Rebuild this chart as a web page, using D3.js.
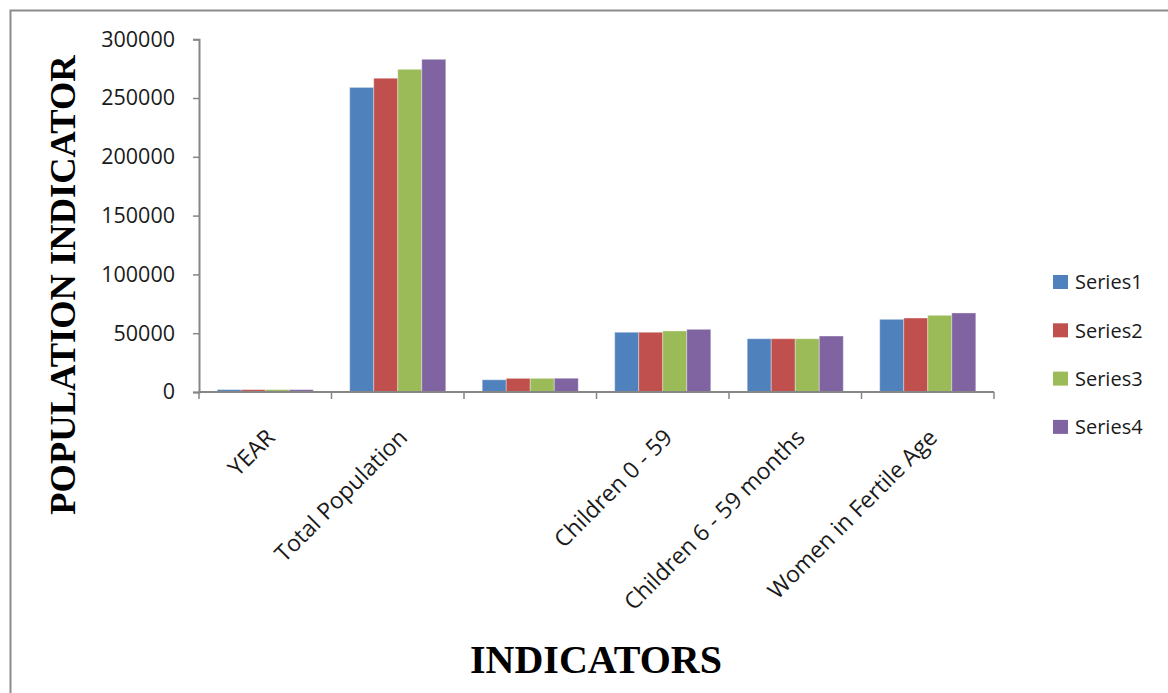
<!DOCTYPE html>
<html>
<head>
<meta charset="utf-8">
<script src="https://cdn.jsdelivr.net/npm/d3@7/dist/d3.min.js"></script>
<style>
  html, body { margin: 0; padding: 0; background: #fff; }
  svg { display: block; }
</style>
</head>
<body>
<svg id="chart" width="1168" height="693"></svg>
<script>
// Indicator categories along the x axis (the third one has no label)
const categories = ["YEAR", "Total Population", "", "Children 0 - 59", "Children 6 - 59 months", "Women in Fertile Age"];
const seriesNames = ["Series1", "Series2", "Series3", "Series4"];
const seriesColors = ["#4F81BD", "#C0504D", "#9BBB59", "#8064A2"];

// One array per series, aligned with categories
const series1 = [2009, 259000, 10400, 50800, 45300, 61800];
const series2 = [2010, 266800, 11600, 50800, 45300, 62900];
const series3 = [2011, 274400, 11600, 51900, 45300, 65200];
const series4 = [2012, 282900, 11700, 53300, 47600, 67200];
const seriesValues = [series1, series2, series3, series4];

const yTicks = [0, 50000, 100000, 150000, 200000, 250000, 300000];

const svg = d3.select("#chart");
const W = 1168, H = 693;

// outer chart frame
svg.append("rect")
  .attr("x", 10.5).attr("y", 10.5)
  .attr("width", W + 20).attr("height", H + 20)
  .attr("fill", "#fff").attr("stroke", "#8c8c8c").attr("stroke-width", 2);

const plot = { left: 199, right: 994, top: 39.2, bottom: 392 };

const x0 = d3.scaleBand()
  .domain(d3.range(categories.length))
  .range([plot.left, plot.right])
  .paddingInner(0.275)
  .paddingOuter(0.1375);

const x1 = d3.scaleBand()
  .domain(d3.range(seriesNames.length))
  .range([0, x0.bandwidth()]);

const y = d3.scaleLinear().domain([0, 300000]).range([plot.bottom, plot.top]);

const axisColor = "#868686";

// bars
const groups = svg.append("g").selectAll("g")
  .data(categories.map((c, i) => ({ i, vals: seriesValues.map(s => s[i]) })))
  .join("g")
  .attr("transform", d => `translate(${x0(d.i)},0)`);

groups.selectAll("rect")
  .data(d => d.vals.map((v, k) => ({ k, v })))
  .join("rect")
  .attr("x", d => x1(d.k))
  .attr("y", d => y(d.v))
  .attr("width", x1.bandwidth())
  .attr("height", d => y(0) - y(d.v))
  .attr("fill", d => seriesColors[d.k])
  .attr("stroke", "#ffffff")
  .attr("stroke-opacity", 0.35)
  .attr("stroke-width", 1);

// y axis
const yAxis = svg.append("g")
  .attr("transform", `translate(${plot.left},0)`)
  .call(d3.axisLeft(y).tickValues(yTicks).tickSize(6).tickPadding(18).tickFormat(d3.format("d")));
yAxis.select(".domain").attr("stroke", axisColor).attr("stroke-width", 2);
yAxis.selectAll(".tick line").attr("stroke", axisColor).attr("stroke-width", 1.5);
yAxis.selectAll(".tick text")
  .attr("fill", "#1a1a1a")
  .style("font-family", "'Open Sans', sans-serif")
  .style("font-size", "21.5px");

// x axis: baseline plus category boundary ticks
const boundaries = d3.range(categories.length + 1).map(i => plot.left + i * x0.step());
const xAxisG = svg.append("g");
xAxisG.append("line")
  .attr("x1", plot.left).attr("x2", plot.right)
  .attr("y1", plot.bottom).attr("y2", plot.bottom)
  .attr("stroke", axisColor).attr("stroke-width", 2);
xAxisG.selectAll("line.tk")
  .data(boundaries)
  .join("line")
  .attr("class", "tk")
  .attr("x1", d => d).attr("x2", d => d)
  .attr("y1", plot.bottom).attr("y2", plot.bottom + 7)
  .attr("stroke", axisColor).attr("stroke-width", 1.5);

// rotated category labels
xAxisG.selectAll("text")
  .data(categories.map((c, i) => ({ c, i })))
  .join("text")
  .attr("transform", d => `translate(${x0(d.i) + x0.bandwidth() / 2 + 11},${plot.bottom + 47}) rotate(-45)`)
  .attr("text-anchor", "end")
  .attr("fill", "#1a1a1a")
  .style("font-family", "'Open Sans', sans-serif")
  .style("font-size", "23px")
  .text(d => d.c);

// axis titles
svg.append("text")
  .attr("transform", `translate(75,285) rotate(-90)`)
  .attr("text-anchor", "middle")
  .style("font-family", "'Liberation Serif', 'Times New Roman', serif")
  .style("font-weight", "bold")
  .style("font-size", "36.5px")
  .attr("fill", "#000")
  .text("POPULATION INDICATOR");

svg.append("text")
  .attr("x", 596).attr("y", 673)
  .attr("text-anchor", "middle")
  .style("font-family", "'Liberation Serif', 'Times New Roman', serif")
  .style("font-weight", "bold")
  .style("font-size", "40px")
  .attr("fill", "#000")
  .text("INDICATORS");

// legend
const legend = svg.append("g").attr("transform", "translate(1053,275)");
const li = legend.selectAll("g")
  .data(seriesNames.map((n, k) => ({ n, k })))
  .join("g")
  .attr("transform", d => `translate(0,${d.k * 48.3})`);
li.append("rect")
  .attr("width", 15).attr("height", 14)
  .attr("fill", d => seriesColors[d.k]);
li.append("text")
  .attr("x", 22).attr("y", 7)
  .attr("dy", "0.36em")
  .attr("fill", "#1a1a1a")
  .style("font-family", "'Open Sans', sans-serif")
  .style("font-size", "20px")
  .text(d => d.n);
</script>
</body>
</html>
